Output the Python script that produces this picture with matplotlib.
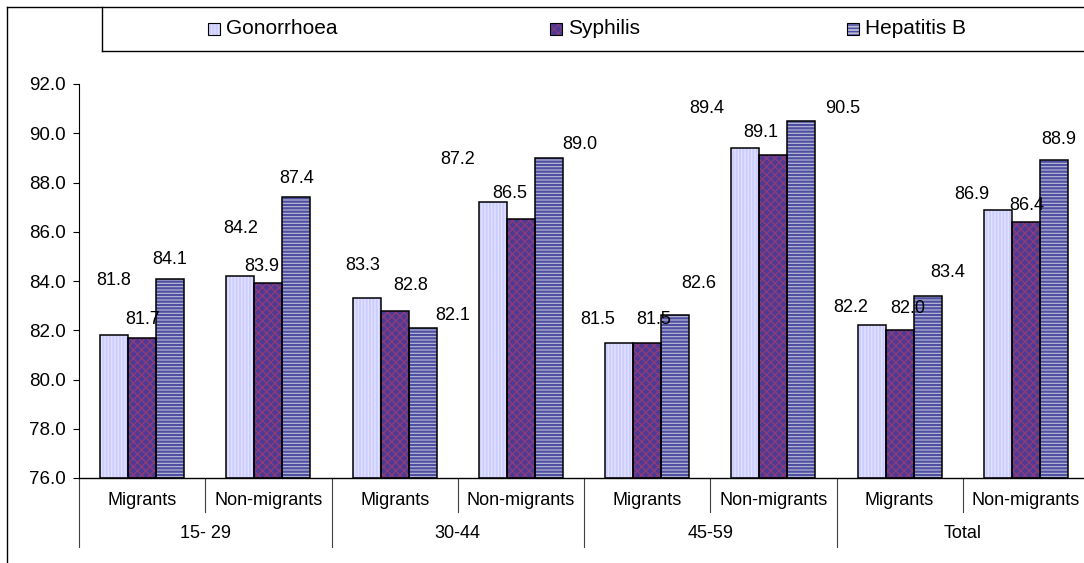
import numpy as np
import matplotlib.pyplot as plt
from matplotlib.patches import Rectangle
from matplotlib.lines import Line2D

plt.rcParams['font.family'] = ['Liberation Sans', 'DejaVu Sans']

# data
age_groups = ["15- 29", "30-44", "45-59", "Total"]
status = ["Migrants", "Non-migrants"]
series_names = ["Gonorrhoea", "Syphilis", "Hepatitis B"]
gonorrhoea = [81.8, 84.2, 83.3, 87.2, 81.5, 89.4, 82.2, 86.9]
syphilis = [81.7, 83.9, 82.8, 86.5, 81.5, 89.1, 82.0, 86.4]
hepatitis_b = [84.1, 87.4, 82.1, 89.0, 82.6, 90.5, 83.4, 88.9]

# data label shifts (pixels) - labels in the original sit at odd places
label_dx = [[0, 0, -4, -35, -21, -39, -21, -26],
            [0, -7, 16, -11, 7, -13, 8, 1],
            [0, 0, 30, 31, 24, 41, 20, 5]]
label_dy = [[56, 49, 34, 44, 25, 41, 19, 17],
            [20, 18, 27, 27, 25, 24, 23, 18],
            [21, 20, 14, 15, 33, 14, 25, 22]]

# styles: face, hatch, hatch colour, hatch linewidth
styles = [("#CCCCFF", "|||||", "#E2E2FF", 1.0),
          ("#4B3A96", "xxxx", "#8E3C78", 1.0),
          ("#BDBDD6", "-----", "#4E4EA2", 1.6)]

W, H = 1084, 563
fig = plt.figure(figsize=(W / 100, H / 100), dpi=100)
ax = fig.add_axes([79 / W, 1 - 478 / H, 1010 / W, 394 / H])

values = [gonorrhoea, syphilis, hepatitis_b]
n = len(gonorrhoea)
x = np.arange(n) + 0.5
bw = 28 / 126.25


def hatched(patch, hlw):
    if hasattr(patch, 'set_hatch_linewidth'):
        patch.set_hatch_linewidth(hlw)


for k, vals in enumerate(values):
    face, hatch, hcol, hlw = styles[k]
    pos = x + (k - 1) * bw
    with plt.rc_context({'hatch.linewidth': hlw}):
        bars = ax.bar(pos, np.array(vals) - 76, bottom=76, width=bw, color=face,
                      hatch=hatch, edgecolor=hcol, linewidth=0, zorder=2)
    for b in bars:
        hatched(b, hlw)
    ax.bar(pos, np.array(vals) - 76, bottom=76, width=bw, fill=False,
           edgecolor='black', linewidth=1.1, zorder=3)
    for i, v in enumerate(vals):
        ax.annotate(f"{v:.1f}", (pos[i], v), xytext=(label_dx[k][i], label_dy[k][i] - 6),
                    textcoords='offset pixels', ha='center', va='baseline',
                    fontsize=13, annotation_clip=False)

ax.set_xlim(0, n)
ax.set_ylim(76, 92)
ax.set_yticks(np.arange(76, 92.1, 2))
ax.yaxis.set_major_formatter(plt.FormatStrFormatter('%.1f'))
ax.tick_params(axis='y', direction='out', length=4.5, width=0.8, pad=5, labelsize=13.5)
ax.set_xticks([])
ax.spines['top'].set_visible(False)
ax.spines['right'].set_visible(False)
ax.spines['left'].set_linewidth(0.8)
ax.spines['bottom'].set_linewidth(1.0)

# multi level category axis
tr = ax.get_xaxis_transform()
for i in range(n):
    ax.text(x[i], -0.056, status[i % 2], transform=tr, ha='center', va='center', fontsize=13)
for j, g in enumerate(age_groups):
    ax.text(2 * j + 1, -0.14, g, transform=tr, ha='center', va='center', fontsize=13)
for i in range(n + 1):
    bottom = -0.175 if i % 2 == 0 else -0.086
    ax.plot([i, i], [0, bottom], transform=tr, color='#404040', lw=0.8, clip_on=False)

# outer border and legend box
def fig_line(xs, ys, lw=1.0):
    fig.add_artist(Line2D([v / W for v in xs], [1 - v / H for v in ys], color='black', lw=lw))

fig_line([7, 7], [7, H])
fig_line([7, W], [7, 7])
fig_line([102, 102], [7, 51])
fig_line([102, W], [51, 51])

legend_x = [208, 550, 847]
for k, name in enumerate(series_names):
    face, hatch, hcol, hlw = styles[k]
    lx = legend_x[k]
    # hatched swatch, then black frame on top
    with plt.rc_context({'hatch.linewidth': hlw * 0.7}):
        sw = Rectangle((lx / W, 1 - 35 / H), 12 / W, 12 / H, facecolor=face,
                       hatch=hatch, edgecolor=hcol, lw=0)
    hatched(sw, hlw * 0.7)
    fig.add_artist(sw)
    fig.add_artist(Rectangle((lx / W, 1 - 35 / H), 12 / W, 12 / H, fill=False,
                             edgecolor='black', lw=0.8))
    fig.text((lx + 18) / W, 1 - 28 / H, name, ha='left', va='center', fontsize=15)

fig.savefig('out.png', dpi=100)
